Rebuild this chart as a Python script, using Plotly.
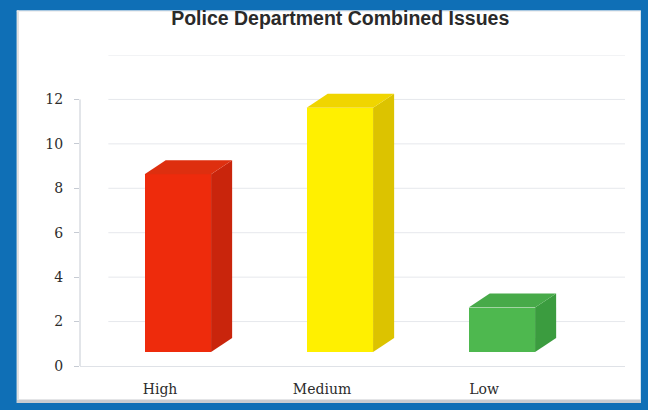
import plotly.graph_objects as go

# Issue counts by priority
categories = ["High", "Medium", "Low"]
counts = [8, 11, 2]
y_ticks = [0, 2, 4, 6, 8, 10, 12]

front_colors = ["#ee2b0c", "#fff000", "#4eb84f"]
side_colors = ["#c9250c", "#dcc300", "#3b9c3f"]
top_colors = ["#de2f0f", "#f0d500", "#47aa49"]

# pseudo-3D geometry (in axis units)
SHIFT = 0.11     # bar front offset from the category centre
WIDTH = 0.41     # front face width
DX = 0.13        # depth offset to the right
DY = 0.63        # depth offset upward
LIFT = 0.63      # front face sits this far above the floor edge

X_RANGE = [-0.494, 2.870]
Y_RANGE = [0, 14]

fig = go.Figure()

xpos = [i + SHIFT for i in range(len(categories))]

# front faces
fig.add_trace(go.Bar(
    x=xpos, y=counts, base=[LIFT] * len(counts), width=WIDTH,
    marker=dict(color=front_colors, line=dict(width=0)),
    hoverinfo="skip", showlegend=False,
))

# side and top faces, computed from each count
for xc, v, sc, tc in zip(xpos, counts, side_colors, top_colors):
    xl, xr = xc - WIDTH / 2, xc + WIDTH / 2
    b, t = LIFT, LIFT + v
    fig.add_trace(go.Scatter(
        x=[xr, xr + DX, xr + DX, xr, xr],
        y=[b, b + DY, t + DY, t, b],
        fill="toself", fillcolor=sc, mode="lines", line=dict(width=0),
        hoverinfo="skip", showlegend=False,
    ))
    fig.add_trace(go.Scatter(
        x=[xl, xl + DX, xr + DX, xr, xl],
        y=[t, t + DY, t + DY, t, t],
        fill="toself", fillcolor=tc, mode="lines", line=dict(width=0),
        hoverinfo="skip", showlegend=False,
    ))

# white card behind the chart
fig.add_shape(type="rect", xref="paper", yref="paper",
              x0=-0.116, x1=1.029, y0=-0.119, y1=1.143,
              fillcolor="white", line=dict(width=0), layer="below")
# soft shadow along the card's bottom and left edges
fig.add_shape(type="rect", xref="paper", yref="paper",
              x0=-0.116, x1=1.029, y0=-0.119, y1=-0.108,
              fillcolor="#c9ccd0", line=dict(width=0), layer="below")
fig.add_shape(type="rect", xref="paper", yref="paper",
              x0=-0.116, x1=-0.112, y0=-0.108, y1=1.143,
              fillcolor="#e2e2e2", line=dict(width=0), layer="below")
fig.add_shape(type="line", xref="paper", yref="paper",
              x0=-0.116, x1=1.029, y0=1.141, y1=1.141,
              line=dict(color="#e6e8ea", width=1), layer="below")

# back-wall gridlines
for v in y_ticks[1:] + [14]:
    fig.add_shape(type="line", xref="paper", yref="y",
                  x0=0.052, x1=1.0, y0=v, y1=v,
                  line=dict(color="#e6e8ec", width=1), layer="below")

# value axis line (runs up to the last labelled tick)
fig.add_shape(type="line", xref="paper", yref="y",
              x0=0, x1=0, y0=0, y1=y_ticks[-1],
              line=dict(color="#c6cbd3", width=1), layer="below")

fig.update_layout(
    width=648, height=410,
    margin=dict(l=80, r=23, t=54.5, b=44, pad=0),
    paper_bgcolor="#0f6fb6",
    plot_bgcolor="white",
    bargap=0,
    title=dict(
        text="<b>Police Department Combined Issues</b>",
        x=0.525, xanchor="center", y=0.956, yanchor="middle",
        font=dict(family="Liberation Sans, Arial, sans-serif", size=19.5, color="#2a2a2a"),
    ),
    xaxis=dict(
        range=X_RANGE, tickmode="array",
        tickvals=list(range(len(categories))), ticktext=categories,
        showgrid=False, zeroline=False,
        showline=True, linecolor="#dfe2e7", linewidth=1,
        ticks="", ticklabelstandoff=10,
        tickfont=dict(family="DejaVu Serif, serif", size=14, color="#2c2c2c"),
        fixedrange=True,
    ),
    yaxis=dict(
        range=Y_RANGE, tickmode="array", tickvals=y_ticks,
        showgrid=False, zeroline=False, showline=False,
        ticks="outside", ticklen=5, tickcolor="#c6cbd3",
        ticklabelstandoff=8,
        tickfont=dict(family="DejaVu Serif, serif", size=14, color="#2c2c2c"),
        fixedrange=True,
    ),
)

fig.write_html("out.html")
